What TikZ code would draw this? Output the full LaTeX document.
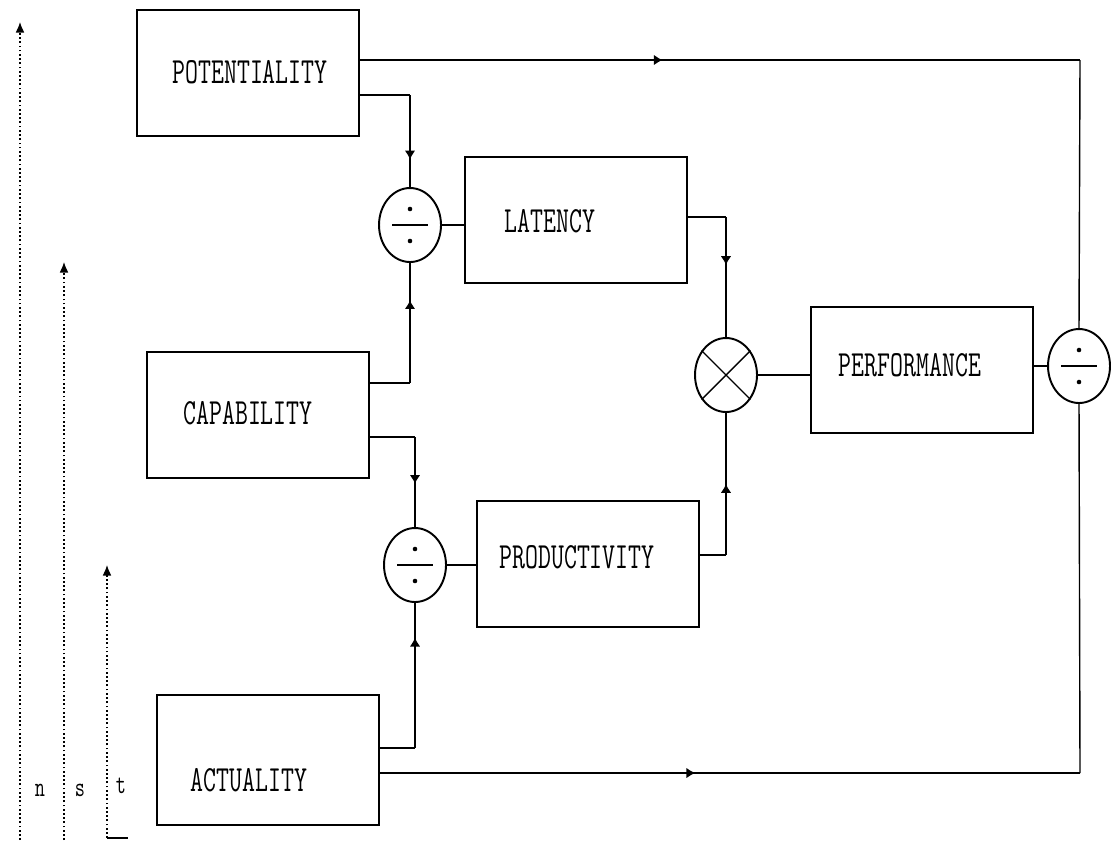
\documentclass[tikz,border=0pt]{standalone}
\usetikzlibrary{arrows.meta,calc,shapes.geometric,decorations.markings}

\begin{document}
\begin{tikzpicture}[
  x=0.02cm,y=-0.02cm,
  >=Latex,
  box/.style={draw,line width=1.6pt,minimum width=4.44cm,minimum height=2.52cm,inner sep=0pt},
  tag/.style={font=\ttfamily\fontsize{21}{21}\selectfont,xscale=0.68,transform shape,inner sep=0pt},
  axtag/.style={font=\ttfamily\fontsize{16}{16}\selectfont,xscale=0.7,transform shape,inner sep=0pt},
  op/.style={draw,ellipse,line width=1.1pt,minimum width=1.24cm,minimum height=1.48cm,inner sep=0pt},
  wire/.style={line width=0.8pt},
  flow/.style={wire,postaction={decorate},
    decoration={markings,mark=at position #1 with {\arrow{Latex[length=5pt,width=6pt]}}}},
  flow/.default=0.5,
  axis/.style={-{Latex[length=6pt,width=5pt]},line width=0.7pt,dash pattern=on 1pt off 1.4pt}
]
  \useasboundingbox (0,0) rectangle (1111,840);

  % boxes and their texts
  \node[box] (pot) at (248,73) {};
  \node[tag] (potT) at (250,72) {POTENTIALITY};
  \node[box] (lat) at (576,220) {};
  \node[tag] (latT) at (550,221) {LATENCY};
  \node[box] (cap) at (258,415) {};
  \node[tag] (capT) at (248,413) {CAPABILITY};
  \node[box] (prod) at (588,564) {};
  \node[tag] (prodT) at (577,557) {PRODUCTIVITY};
  \node[box] (perf) at (922,370) {};
  \node[tag] (perfT) at (910,365) {PERFORMANCE};
  \node[box,minimum height=2.6cm] (act) at (268,760) {};
  \node[tag] (actT) at (249,780) {ACTUALITY};

  % operators
  \node[op] (d1) at (410,225) {};
  \node[op] (d2) at (415,565) {};
  \node[op] (d3) at (1079,366) {};
  \node[op] (mul) at (726,375) {};
  \foreach \o in {d1,d2,d3} {
    \draw[wire] ($(\o)+(-18,0)$) -- ($(\o)+(18,0)$);
    \fill ($(\o)+(0,-16)$) circle (1.3pt);
    \fill ($(\o)+(0,16)$) circle (1.3pt);
  }
  \draw[wire] (mul.45) -- (mul.225) (mul.135) -- (mul.315);

  % elbows
  \coordinate (tr) at (1080,60);
  \coordinate (br) at (1080,773);
  \coordinate (k1) at (410,95);
  \coordinate (k2) at (410,383);
  \coordinate (k3) at (726,217);
  \coordinate (k4) at (415,437);
  \coordinate (k5) at (415,748);
  \coordinate (k6) at (726,555);

  % connectors
  \draw[flow=0.42] (pot.east|-tr) -- (tr);
  \draw[wire] (tr) -- (d3.north);
  \draw[wire] (pot.east|-k1) -- (k1);
  \draw[flow=0.7] (k1) -- (d1.north);
  \draw[wire] (cap.east|-k2) -- (k2);
  \draw[flow=0.69] (k2) -- (d1.south);
  \draw[wire] (d1.east) -- (d1.east-|lat.west);
  \draw[wire] (lat.east|-k3) -- (k3);
  \draw[flow=0.4] (k3) -- (mul.north);
  \draw[wire] (cap.east|-k4) -- (k4);
  \draw[flow=0.52] (k4) -- (d2.north);
  \draw[wire] (act.east|-k5) -- (k5);
  \draw[flow=0.76] (k5) -- (d2.south);
  \draw[wire] (d2.east) -- (d2.east-|prod.west);
  \draw[wire] (prod.east|-k6) -- (k6);
  \draw[flow=0.5] (k6) -- (mul.south);
  \draw[wire] (mul.east) -- (mul.east-|perf.west);
  \draw[wire] (perf.east|-d3) -- (d3.west);
  \draw[flow=0.45] (act.east|-br) -- (br);
  \draw[wire] (br) -- (d3.south);

  % scales at the left
  \coordinate (nB) at (20,840);
  \coordinate (nE) at (20,22);
  \coordinate (sB) at (64,840);
  \coordinate (sE) at (64,262);
  \coordinate (tB) at (107,838);
  \coordinate (tE) at (107,565);
  \draw[axis] (nB) -- (nE);
  \draw[axis] (sB) -- (sE);
  \draw[axis] (tB) -- (tE);
  \draw[line width=1.2pt] (tB) -- ++(21,0);
  \node[axtag] (nL) at (40,790) {n};
  \node[axtag] (sL) at (80,790) {s};
  \node[axtag] (tL) at (121,786) {t};
\end{tikzpicture}
\end{document}
